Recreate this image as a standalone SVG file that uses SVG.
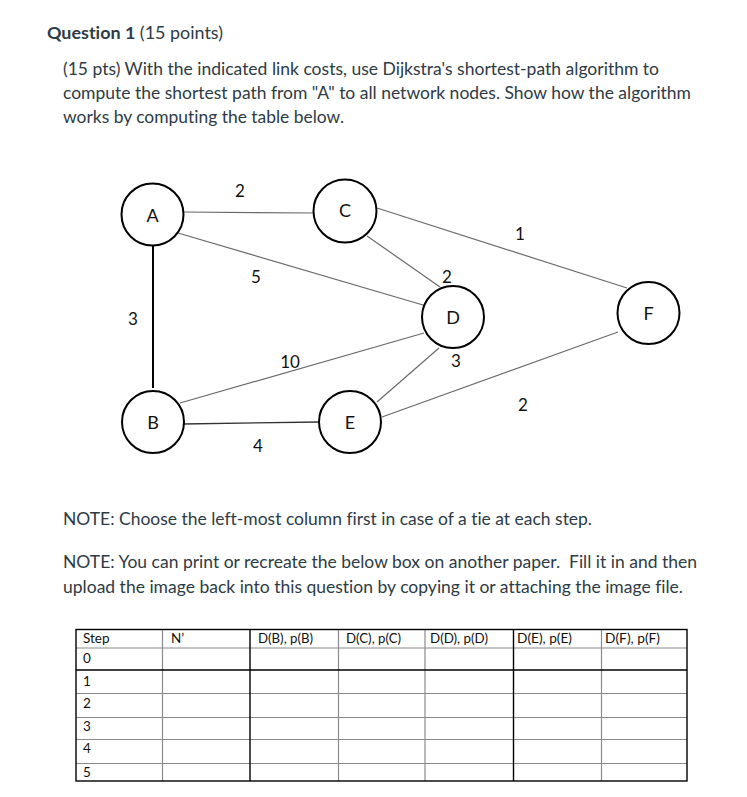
<svg xmlns="http://www.w3.org/2000/svg" width="747" height="797" viewBox="0 0 747 797">
<style>
.t{font-family:Lato,"Open Sans","Liberation Sans",sans-serif;fill:#2d3b45;font-size:16.3px;font-variant-ligatures:none}
.b{font-weight:bold}
.n{fill:#fff;stroke:#000;stroke-width:2}
.nl{font-family:Lato,"Open Sans","Liberation Sans",sans-serif;font-size:18px;fill:#111;text-anchor:middle;dominant-baseline:central}
.el{font-family:Lato,"Open Sans","Liberation Sans",sans-serif;font-size:17px;fill:#111;text-anchor:middle;dominant-baseline:central}
.e{stroke:#6a6a6a;stroke-width:1.2;fill:none}
.tb{font-family:Lato,"Open Sans","Liberation Sans",sans-serif;font-size:13.5px;fill:#111}
.gk{stroke:#000;stroke-width:1.4}
.gg{stroke:#8a8a8a;stroke-width:1.2}
</style>
<rect width="747" height="797" fill="#fff"/>
<g id="header">
<text class="t" x="47" y="39" font-size="17" textLength="176" lengthAdjust="spacingAndGlyphs"><tspan class="b">Question 1</tspan> (15 points)</text>
<text class="t" x="63" y="74.5" textLength="596" lengthAdjust="spacingAndGlyphs">(15 pts) With the indicated link costs, use Dijkstra's shortest-path algorithm to</text>
<text class="t" x="63" y="98.5" textLength="628" lengthAdjust="spacingAndGlyphs">compute the shortest path from "A" to all network nodes. Show how the algorithm</text>
<text class="t" x="63" y="122.5" textLength="281" lengthAdjust="spacingAndGlyphs">works by computing the table below.</text>
</g>
<g id="connectors">
<line class="e" x1="183" y1="212" x2="314" y2="213"/>
<line class="e" x1="178" y1="233" x2="423" y2="305"/>
<line class="e" x1="377" y1="208" x2="627" y2="288"/>
<line class="e" x1="367" y1="236" x2="440" y2="287"/>
<line x1="153" y1="246" x2="153" y2="388" stroke="#000" stroke-width="2"/>
<line class="e" x1="180" y1="403" x2="424" y2="333"/>
<line x1="183" y1="424" x2="320" y2="422" stroke="#333" stroke-width="1.3"/>
<line class="e" x1="377" y1="402" x2="439" y2="348"/>
<line class="e" x1="382" y1="417" x2="618" y2="332"/>
<text class="el" x="240" y="190">2</text>
<text class="el" x="256" y="276">5</text>
<text class="el" x="520" y="233">1</text>
<text class="el" x="447" y="276">2</text>
<text class="el" x="456" y="360">3</text>
<text class="el" x="133" y="318">3</text>
<text class="el" x="290" y="361">10</text>
<text class="el" x="258" y="445">4</text>
<text class="el" x="523" y="404">2</text>
</g>
<g id="node-A"><circle class="n" cx="152.5" cy="214.5" r="31"/><text class="nl" x="152.5" y="214.5">A</text></g>
<g id="node-C"><circle class="n" cx="345" cy="211" r="31.5"/><text class="nl" x="345" y="210">C</text></g>
<g id="node-D"><circle class="n" cx="453" cy="317" r="31"/><text class="nl" x="453" y="317">D</text></g>
<g id="node-F"><circle class="n" cx="648.5" cy="313" r="31"/><text class="nl" x="648.5" y="313">F</text></g>
<g id="node-B"><circle class="n" cx="153" cy="422" r="31"/><text class="nl" x="153" y="422">B</text></g>
<g id="node-E"><circle class="n" cx="350" cy="422" r="31"/><text class="nl" x="350" y="422">E</text></g>
<g id="notes">
<text class="t" x="63" y="525" textLength="529" lengthAdjust="spacingAndGlyphs">NOTE: Choose the left-most column first in case of a tie at each step.</text>
<text class="t" x="63" y="568" xml:space="preserve" textLength="634" lengthAdjust="spacingAndGlyphs">NOTE: You can print or recreate the below box on another paper.  Fill it in and then</text>
<text class="t" x="63" y="592.5" textLength="620" lengthAdjust="spacingAndGlyphs">upload the image back into this question by copying it or attaching the image file.</text>
</g>
<g id="table">
<line class="gg" x1="76" y1="648" x2="687" y2="648" stroke="#c8c8c8"/>
<line class="gg" x1="76" y1="693.5" x2="687" y2="693.5"/>
<line class="gg" x1="76" y1="717.5" x2="687" y2="717.5"/>
<line class="gg" x1="76" y1="739.5" x2="687" y2="739.5"/>
<line class="gg" x1="76" y1="763.5" x2="687" y2="763.5"/>
<line class="gg" x1="162.5" y1="629" x2="162.5" y2="781"/>
<line class="gg" x1="338.5" y1="629" x2="338.5" y2="781"/>
<line class="gg" x1="425" y1="629" x2="425" y2="781"/>
<line class="gg" x1="601.5" y1="629" x2="601.5" y2="781"/>
<line class="gk" x1="76" y1="670" x2="687" y2="670"/>
<line class="gk" x1="250" y1="629" x2="250" y2="781"/>
<line class="gk" x1="513.5" y1="629" x2="513.5" y2="781"/>
<rect x="76" y="629.5" width="611" height="151.5" fill="none" stroke="#000" stroke-width="1.4"/>
<text class="tb" x="83" y="643">Step</text>
<text class="tb" x="171" y="643">N’</text>
<text class="tb" x="258" y="643" textLength="55" lengthAdjust="spacingAndGlyphs">D(B), p(B)</text>
<text class="tb" x="346" y="643" textLength="55" lengthAdjust="spacingAndGlyphs">D(C), p(C)</text>
<text class="tb" x="430" y="643" textLength="58" lengthAdjust="spacingAndGlyphs">D(D), p(D)</text>
<text class="tb" x="517" y="643" textLength="55" lengthAdjust="spacingAndGlyphs">D(E), p(E)</text>
<text class="tb" x="605" y="643" textLength="55" lengthAdjust="spacingAndGlyphs">D(F), p(F)</text>
<text class="tb" x="83" y="663">0</text>
<text class="tb" x="83" y="686">1</text>
<text class="tb" x="83" y="708">2</text>
<text class="tb" x="83" y="731">3</text>
<text class="tb" x="83" y="753">4</text>
<text class="tb" x="83" y="777">5</text>
</g>
</svg>
